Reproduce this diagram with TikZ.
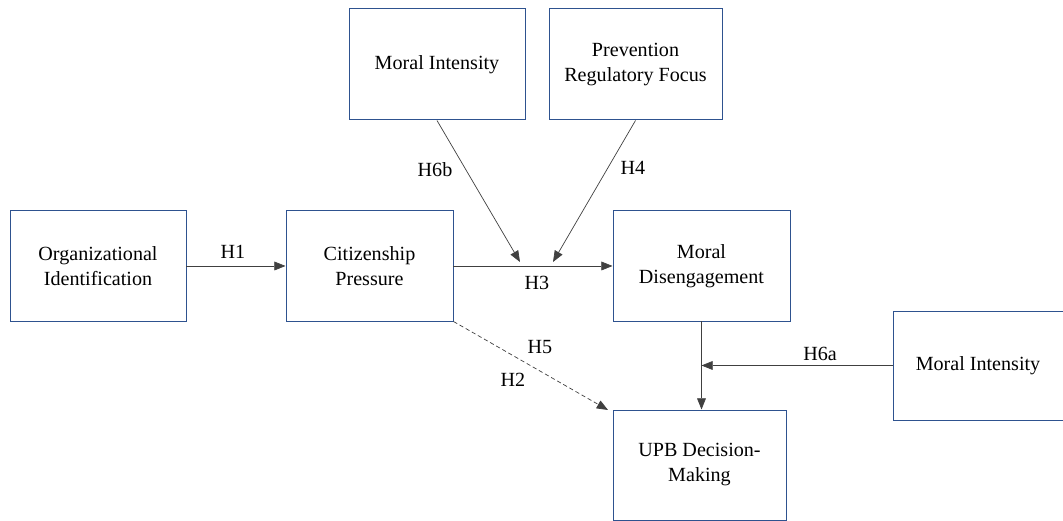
\documentclass[tikz,border=0pt]{standalone}
\usepackage{fontspec}
\setmainfont{Liberation Serif}
\usepackage{tikz}
\usetikzlibrary{arrows.meta}
\definecolor{BoxBlue}{rgb}{0.18,0.32,0.56}
\definecolor{LineGray}{rgb}{0.25,0.25,0.25}
\tikzset{box/.style={draw=BoxBlue,line width=0.7pt,minimum height=2.75cm,
  align=center,inner sep=0pt},
  hyp/.style={draw=LineGray,line width=0.5pt,-{Triangle[length=0.28cm,width=0.22cm]}}}

\begin{document}
\begin{tikzpicture}[font=\fontsize{14.3}{17.8}\selectfont]
\useasboundingbox (0,0) rectangle (26.575,13.025);

\node[box,minimum width=4.4cm] (orgid) at (2.45,6.375) {Organizational\\Identification};
\node[box,minimum width=4.175cm] (citpres) at (9.2375,6.375) {Citizenship\\Pressure};
\node[box,minimum width=4.4cm,minimum height=2.775cm] (morint) at (10.925,11.4125) {Moral Intensity};
\node[box,minimum width=4.325cm,minimum height=2.775cm] (prevfoc) at (15.8875,11.4125) {Prevention\\Regulatory Focus};
\node[box,minimum width=4.425cm] (moddis) at (17.5375,6.375) {Moral\\Disengagement};
\node[box,minimum width=4.325cm] (upb) at (17.4875,1.4) {UPB Decision-\\Making};
\node[box,minimum width=4.25cm,minimum height=2.725cm] (morintb) at (24.45,3.8875) {Moral Intensity};

\coordinate (modA) at (13.0,6.475);
\coordinate (modB) at (13.825,6.475);
\coordinate (modC) at (moddis.south |- morintb.west);
\coordinate (upbin) at (15.2,2.775);

\draw[hyp] (orgid) -- (citpres);
\draw[hyp] (citpres) -- (moddis);
\draw[hyp] (morint.south) -- (modA);
\draw[hyp] (prevfoc.south) -- (modB);
\draw[hyp] (moddis.south) -- (upb.north -| moddis.south);
\draw[hyp] (morintb.west) -- (modC);
\draw[hyp,densely dashed] (citpres.south east) -- (upbin);

\node (hA) at (5.825,6.725) {H1};
\node (hC) at (13.425,5.95) {H3};
\node (hFb) at (10.875,8.775) {H6b};
\node (hD) at (15.825,8.825) {H4};
\node (hFa) at (20.5,4.175) {H6a};
\node (hE) at (13.5,4.35) {H5};
\node (hB) at (12.825,3.525) {H2};

\end{tikzpicture}
\end{document}
